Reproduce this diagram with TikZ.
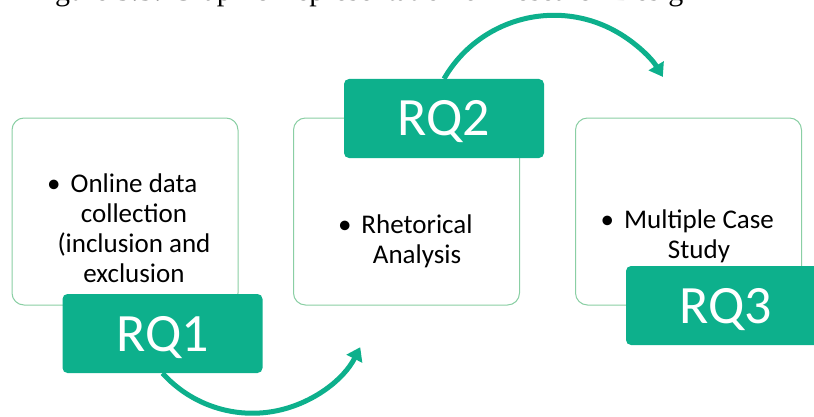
\documentclass[tikz,border=0pt]{standalone}
\usepackage{fontspec}
\setmainfont{Carlito}
\newfontfamily\captionserif{Liberation Serif}
\usetikzlibrary{arrows.meta}
\definecolor{rqgreen}{HTML}{0DB08C}
\definecolor{panelline}{HTML}{8ACFA4}

\begin{document}
\begin{tikzpicture}[x=1pt,y=1pt,
  panel/.style={draw=panelline, line width=1pt, fill=white, rounded corners=12pt,
    minimum width=226pt, minimum height=187pt, inner sep=0pt},
  rqtag/.style={fill=rqgreen, rounded corners=5pt, minimum width=200pt,
    minimum height=79pt, inner sep=0pt, text=white,
    font=\fontsize{54}{54}\selectfont, text height=35pt, text depth=0pt},
  bullets/.style={anchor=base, inner sep=0pt, font=\fontsize{27}{30.3}\selectfont},
  flow/.style={draw=rqgreen, line width=5pt, -{Triangle[length=13pt,width=17pt]}}]
\useasboundingbox (0,0) rectangle (814,416);
\clip (0,0) rectangle (814,416);

% caption line running off the top edge
\node[anchor=base west, inner sep=0pt, font=\captionserif\fontsize{30}{30}\selectfont]
  (caption) at (30,415) {Figure 3.3: Graphic Representation of Research Design};

% step 1
\node[panel] (p1) at (125,204.5) {};
\node[bullets] (t1) at (134,224) {\parbox[t]{220pt}{\centering
  \leavevmode\llap{\textbullet\hspace{10pt}}Online data\\collection\\(inclusion and\\exclusion}};
\node[rqtag] (rq1) at (162.5,82.5) {RQ1};

% step 2
\node[panel] (p2) at (406.5,204.5) {};
\node[bullets] (t2) at (417,183) {\parbox[t]{220pt}{\centering
  \leavevmode\llap{\textbullet\hspace{10pt}}Rhetorical\\Analysis}};
\node[rqtag] (rq2) at (444,297.5) {RQ2};

% step 3
\node[panel] (p3) at (688.5,204.5) {};
\node[bullets] (t3) at (699,188) {\parbox[t]{220pt}{\centering
  \leavevmode\llap{\textbullet\hspace{10pt}}Multiple Case\\Study}};
\node[rqtag] (rq3) at (726,110.5) {RQ3};

% curved arrows between the steps
\draw[flow] (rq1.south) arc[start angle=222, end angle=333, radius=121pt];
\draw[flow] (rq2.north) arc[start angle=150, end angle=31, radius=127pt];
\end{tikzpicture}
\end{document}
